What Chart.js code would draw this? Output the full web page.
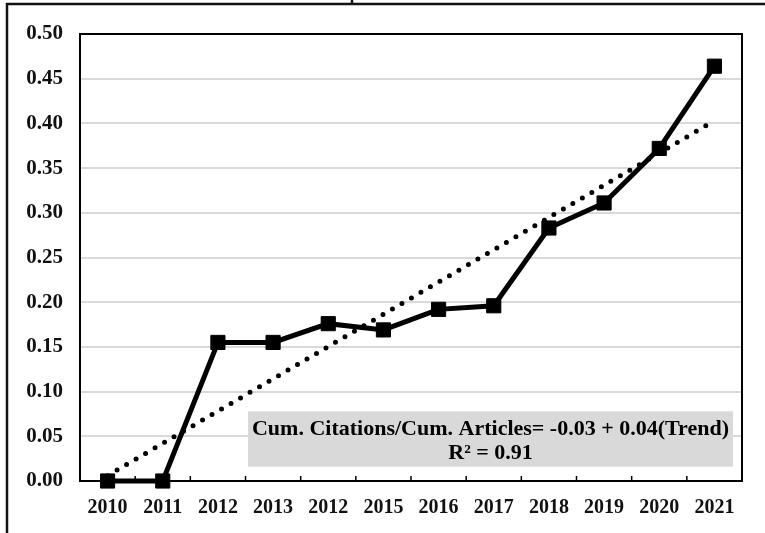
<!DOCTYPE html>
<html>
<head>
<meta charset="utf-8">
<title>Cumulative citations per cumulative article</title>
<script src="https://cdn.jsdelivr.net/npm/chart.js@4"></script>
<style>
  html, body { margin: 0; padding: 0; background: #fff; }
  #wrap { position: relative; width: 765px; height: 533px; }
</style>
</head>
<body>
<div id="wrap"><canvas id="ratioChart" width="765" height="533"></canvas></div>
<script>
const years = ["2010", "2011", "2012", "2013", "2012", "2015", "2016", "2017", "2018", "2019", "2020", "2021"];
const ratio = [0, 0, 0.155, 0.155, 0.176, 0.169, 0.192, 0.196, 0.283, 0.311, 0.372, 0.464];
// linear trend, only the two ends are needed
const trend = [0.006, null, null, null, null, null, null, null, null, null, null, 0.403];
const eqLines = ["Cum. Citations/Cum. Articles= -0.03 + 0.04(Trend)", "R\u00B2 = 0.91"];

const SERIF = "'Liberation Serif', 'Times New Roman', serif";

const framePlugin = {
  id: "frame",
  beforeDraw(chart) {
    const ctx = chart.ctx;
    ctx.save();
    ctx.strokeStyle = "#111";
    ctx.lineWidth = 2.5;
    ctx.beginPath();
    ctx.moveTo(7, chart.height);
    ctx.lineTo(7, 4);
    ctx.lineTo(chart.width, 4);
    ctx.moveTo(352, 4);
    ctx.lineTo(352, 0);
    ctx.stroke();
    ctx.restore();
  },
  beforeDatasetsDraw(chart) {
    const ctx = chart.ctx;
    const a = chart.chartArea;
    const x = chart.scales.x;
    const y = chart.scales.y;
    ctx.save();

    // equation box
    const bx = a.left + 168, bw = a.right - 9 - bx;
    const by = y.getPixelForValue(0.078), bh = y.getPixelForValue(0.016) - by;
    ctx.fillStyle = "#d9d9d9";
    ctx.fillRect(bx, by, bw, bh);
    ctx.fillStyle = "#000";
    ctx.font = "bold 22px " + SERIF;
    ctx.textAlign = "center";
    ctx.textBaseline = "middle";
    ctx.fillText(eqLines[0], bx + bw / 2, by + 18);
    ctx.fillText(eqLines[1], bx + bw / 2, by + 42);

    // plot border
    ctx.strokeStyle = "#000";
    ctx.lineWidth = 2;
    ctx.strokeRect(a.left, a.top, a.right - a.left, a.bottom - a.top);

    // inward tick marks between categories
    ctx.lineWidth = 1.5;
    ctx.beginPath();
    for (let i = 1; i < years.length; i++) {
      const px = (x.getPixelForValue(i - 1) + x.getPixelForValue(i)) / 2;
      ctx.moveTo(px, a.bottom);
      ctx.lineTo(px, a.bottom - 5);
    }
    ctx.stroke();
    ctx.restore();
  }
};

new Chart(document.getElementById("ratioChart"), {
  type: "line",
  data: {
    labels: years,
    datasets: [
      {
        label: "Trend",
        data: trend,
        spanGaps: true,
        borderColor: "#000",
        borderWidth: 5,
        borderDash: [0, 11],
        borderCapStyle: "round",
        pointRadius: 0,
        fill: false,
        order: 2
      },
      {
        label: "Cum. Citations/Cum. Articles",
        data: ratio,
        borderColor: "#000",
        backgroundColor: "#000",
        borderWidth: 5,
        pointStyle: "rect",
        pointRadius: 10,
        pointBorderWidth: 1,
        pointBackgroundColor: "#000",
        tension: 0,
        fill: false,
        clip: false,
        order: 1
      }
    ]
  },
  options: {
    responsive: false,
    animation: false,
    layout: { padding: { left: 0, top: 34, right: 23, bottom: 0 } },
    plugins: {
      legend: { display: false },
      tooltip: { enabled: false }
    },
    scales: {
      x: {
        offset: true,
        afterFit(scale) { scale.height = 52; },
        grid: { display: false, drawTicks: false },
        border: { display: false },
        ticks: {
          color: "#111",
          padding: 15,
          maxRotation: 0,
          autoSkip: false,
          font: { family: SERIF, size: 20, weight: "bold" }
        }
      },
      y: {
        min: 0,
        max: 0.5,
        afterFit(scale) { scale.width = 80; },
        grid: { color: "#d9d9d9", lineWidth: 2, drawTicks: false },
        border: { display: false },
        ticks: {
          stepSize: 0.05,
          color: "#111",
          padding: 17,
          font: { family: SERIF, size: 21, weight: "bold" },
          callback: v => v.toFixed(2)
        }
      }
    }
  },
  plugins: [framePlugin]
});
</script>
</body>
</html>
